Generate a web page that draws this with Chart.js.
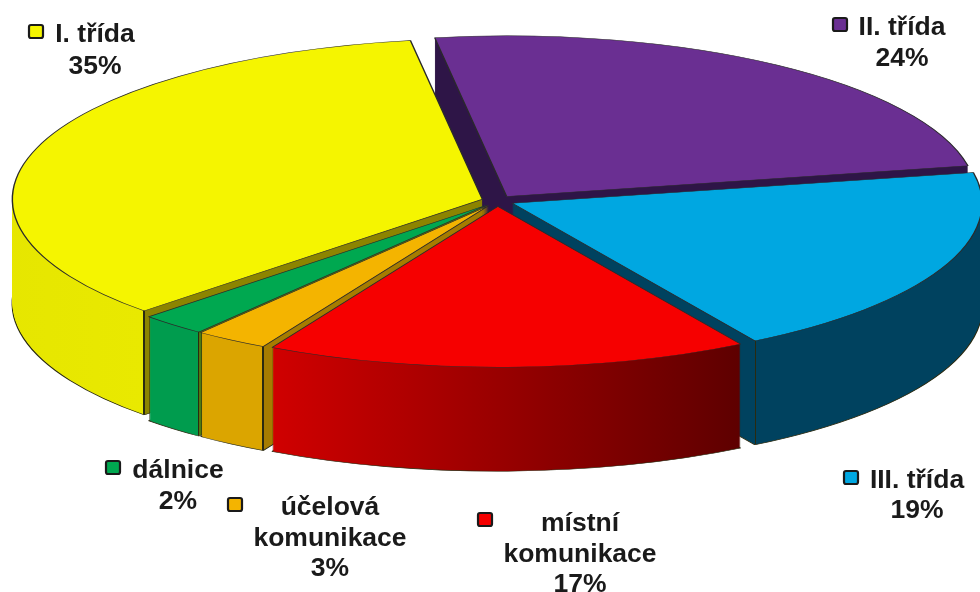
<!DOCTYPE html>
<html><head><meta charset="utf-8">
<style>html,body{margin:0;padding:0;background:#fff}canvas{display:block}</style>
<script src="https://cdn.jsdelivr.net/npm/chart.js@4"></script>
</head><body><canvas id="c" width="980" height="592"></canvas>
<script>
// Data
const categories = ['I. třída','II. třída','III. třída','místní komunikace','účelová komunikace','dálnice'];
const percentLabels = ['35%','24%','19%','17%','3%','2%'];
const sliceShares = [34.78,24.38,19.43,16.61,2.53,2.28];
const labelLines = [['I. třída'],['II. třída'],['III. třída'],['místní','komunikace'],['účelová','komunikace'],['dálnice']];
const topColors = ['#f5f500','#6a2f92','#00a7e1','#f60000','#f4b400','#00a850'];

// Styling / projection
const P = {cx:497.5, cy:201, rx:470, k:0.342, depth:104, explode:16};
const wallLeft  = ['#e6e600','#2e1547','#00425f','#d00000','#dba500','#009c4e'];
const wallRight = ['#e9e900','#2e1547','#00425f','#5e0000','#dba500','#009c4e'];
const cutColor  = ['#8c8400','#2e1547','#00425f','#5e0000','#a67c00','#4f7a10'];
const edge = '#2a2a10';
const drawOrder = [1,0,2,5,4,3];
const textPos = [
 {x:95,y:[42,74],m:[28,24]},
 {x:902,y:[35,66],m:[832,17]},
 {x:917,y:[488,518],m:[843,470]},
 {x:580,y:[531,562,592],m:[477,512]},
 {x:330,y:[515,546,576],m:[227,497]},
 {x:178,y:[478,509],m:[105,460]}
];

const pie3d = {
 id:'pie3d',
 beforeDatasetsDraw(chart){
  const ctx = chart.ctx, arcs = chart.getDatasetMeta(0).data;
  const R = arcs[0].outerRadius, S = P.rx/R;
  const place = (el,dy)=>{
    const mid=(el.startAngle+el.endAngle)/2;
    const ex=Math.cos(mid)*P.explode, ey=Math.sin(mid)*P.explode*P.k;
    ctx.translate(P.cx+ex,P.cy+ey+dy);
    ctx.scale(S,S*P.k);
    ctx.translate(-el.x,-el.y);
    return ex;
  };
  for(const i of drawOrder){
    const el=arcs[i], base=el.options;
    const mid=(el.startAngle+el.endAngle)/2, ex=Math.cos(mid)*P.explode;
    const cornerS=P.cx+ex+P.rx*Math.cos(el.startAngle), cornerE=P.cx+ex+P.rx*Math.cos(el.endAngle);
    const toU=x=>(x-P.cx-ex)/S+el.x;
    const g=ctx.createLinearGradient(toU(0),0,toU(980),0);
    const stop=(x,c)=>g.addColorStop(Math.min(1,Math.max(0,x/980)),c);
    if(i===1){ stop(0,wallLeft[1]); stop(980,wallLeft[1]); }
    else{
      const l = i===0?0:cornerE, r = i===2?980:cornerS;
      stop(l,wallLeft[i]); 
      if(i!==0){ stop(l,edge); stop(l+1.2,edge); stop(l+1.2,wallLeft[i]); }
      stop(r-1,wallRight[i]);
      if(i!==2){ stop(r-1,edge); stop(r+0.5,edge); stop(r+0.5,cutColor[i]); stop(980,cutColor[i]); }
    }
    const wall=Object.create(base); wall.backgroundColor=g; wall.borderWidth=0;
    const bottom=Object.create(base); bottom.backgroundColor=g; bottom.borderWidth=1; bottom.borderColor=edge;
    for(let d=P.depth;d>=1;d--){
      ctx.save(); place(el,d); el.options=d===P.depth?bottom:wall; el.draw(ctx); ctx.restore();
    }
    el.options=base;
    ctx.save(); place(el,0); el.draw(ctx); ctx.restore();
  }
  return false;
 },
 afterDraw(chart){
  const ctx=chart.ctx;
  ctx.save();
  ctx.font='bold 26.5px "Liberation Sans", Arial, sans-serif';
  ctx.textAlign='center'; ctx.textBaseline='alphabetic'; ctx.fillStyle='#1a1a1a';
  categories.forEach((c,i)=>{
    const p=textPos[i], lines=[...labelLines[i],percentLabels[i]];
    lines.forEach((t,j)=>ctx.fillText(t,p.x,p.y[j]));
    ctx.beginPath(); ctx.roundRect(p.m[0]+1,p.m[1]+1,14,13,2);
    ctx.fillStyle=topColors[i]; ctx.fill();
    ctx.lineWidth=2.2; ctx.strokeStyle='#1a1a1a'; ctx.stroke();
    ctx.fillStyle='#1a1a1a';
  });
  ctx.restore();
 }
};

new Chart(document.getElementById('c'),{
 type:'pie',
 data:{labels:categories,datasets:[{data:sliceShares,backgroundColor:topColors,borderColor:'#2a2a2a',borderWidth:0.9,hoverOffset:0}]},
 options:{responsive:false,animation:false,rotation:226,
  layout:{padding:0},
  plugins:{legend:{display:false},tooltip:{enabled:false}},
  events:[]},
 plugins:[pie3d]
});
</script>
</body></html>
